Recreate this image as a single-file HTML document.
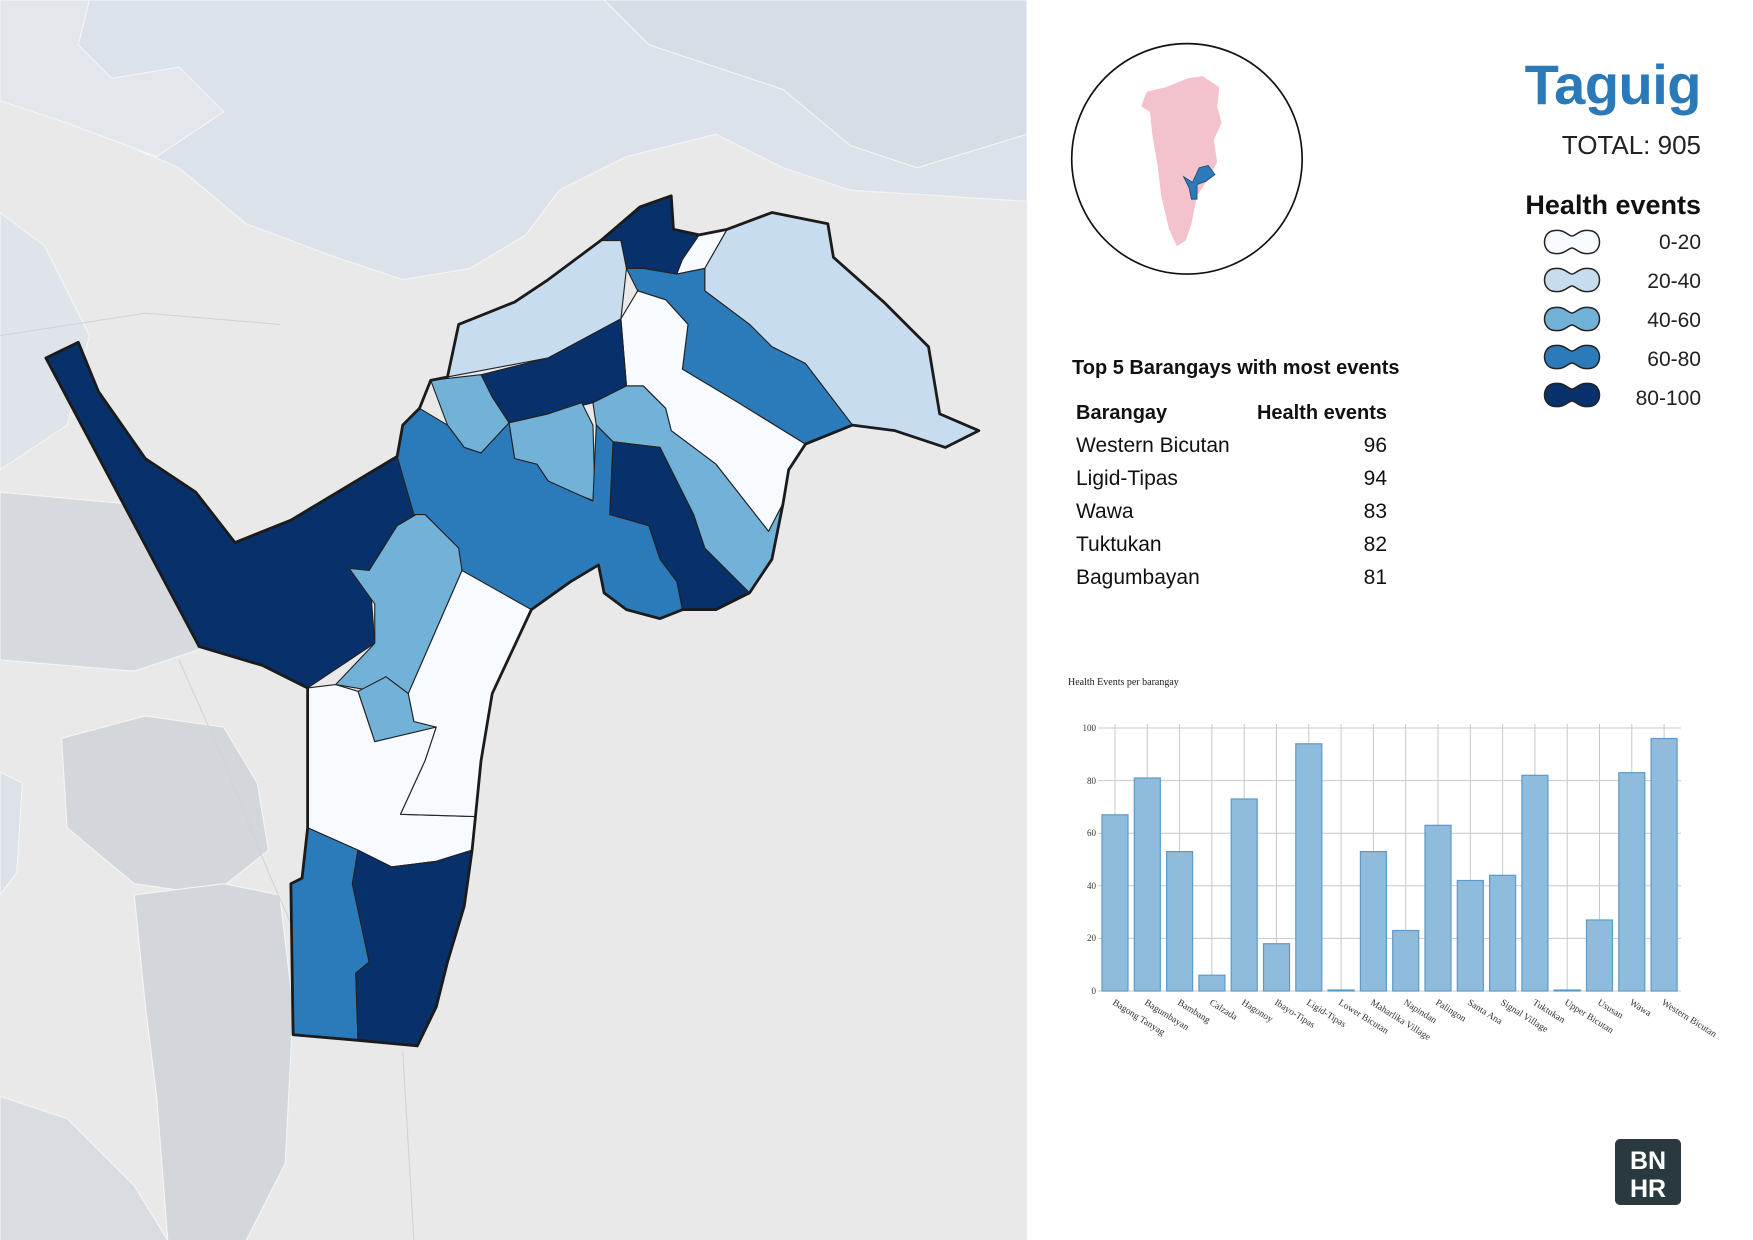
<!DOCTYPE html>
<html><head><meta charset="utf-8"><style>
body{margin:0;width:1753px;height:1240px;overflow:hidden;background:#fff;position:relative;font-family:"Liberation Sans",sans-serif}
.t{position:absolute;white-space:nowrap;color:#222}
</style></head><body>
<svg width="1753" height="1240" viewBox="0 0 1567 1108.5" preserveAspectRatio="none" style="position:absolute;left:0;top:0">
<rect x="0" y="0" width="918" height="1109" fill="#e9e9e9"/>
<g stroke="#f4f5f6" stroke-width="1">
<polygon points="0,0 918,0 918,180 760,170 700,150 640,120 560,140 500,170 470,210 420,240 360,250 300,230 220,200 160,150 90,120 40,80 0,60" fill="#dce2e9"/>
<polygon points="0,0 80,0 70,40 100,70 160,60 200,100 140,140 60,110 0,90" fill="#e3e7ec"/>
<polygon points="540,0 918,0 918,120 820,150 760,130 700,80 640,60 580,40" fill="#d7dde5"/>
<polygon points="0,190 40,220 80,300 60,380 0,420" fill="#dfe4ea"/>
<polygon points="0,440 110,450 200,500 180,580 120,600 0,590" fill="#d6d9dd"/>
<polygon points="55,660 130,640 200,650 230,700 240,760 190,800 120,790 60,740" fill="#d3d6da"/>
<polygon points="120,800 200,790 250,800 262,900 255,1040 220,1109 150,1109 140,980 130,900" fill="#d3d6da"/>
<polygon points="0,980 60,1000 120,1060 150,1109 0,1109" fill="#d9dce0"/>
<polygon points="0,690 20,700 15,780 0,800" fill="#dde2e8"/>
</g>
<g stroke="#d0d3d6" stroke-width="1" fill="none">
<path d="M160,590 L200,680 L240,780 L262,830"/>
<path d="M360,940 L370,1109"/>
<path d="M0,300 L130,280 L250,290"/>
</g>
<g stroke="#222" stroke-width="1" stroke-linejoin="round">
<polygon fill="#08306b" points="41,320 70,306 88,350 130,410 175,440 210,485 260,465 355,408 372,460 355,470 330,510 335,575 275,615 235,595 178,578"/>
<polygon fill="#08306b" points="537,215 572,185 600,175 602,205 625,210 610,232 605,245 575,240 560,240 555,215"/>
<polygon fill="#c8dcf0" points="555,215 560,240 555,285 490,320 400,337 410,290 460,270 490,250 537,215"/>
<polygon fill="#f7fbff" points="605,245 610,232 625,210 650,205 630,240"/>
<polygon fill="#c8dcf0" points="650,205 690,190 740,200 745,230 790,270 830,310 840,370 875,385 845,400 800,385 762,380 720,325 690,310 670,290 630,260 630,240"/>
<polygon fill="#2b7bba" points="560,240 575,240 605,245 630,240 630,260 670,290 690,310 720,325 762,380 720,397 660,360 610,330 615,290 595,268 570,260"/>
<polygon fill="#f7fbff" points="555,285 570,260 595,268 615,290 610,330 660,360 720,397 705,420 700,450 687,475 640,415 620,400 600,385 595,365 575,345 560,345"/>
<polygon fill="#08306b" points="430,335 490,320 555,285 560,345 530,360 490,370 455,378 440,355"/>
<polygon fill="#73b2d8" points="385,340 430,335 440,355 455,378 430,405 415,400 400,380"/>
<polygon fill="#73b2d8" points="455,378 490,370 520,360 530,380 532,448 510,440 490,430 480,415 460,410"/>
<polygon fill="#73b2d8" points="530,360 560,345 575,345 595,365 600,385 620,400 640,415 687,475 700,450 690,500 670,530 630,490 620,460 590,400 548,395 533,380"/>
<polygon fill="#08306b" points="548,395 590,400 620,460 630,490 670,530 640,545 610,545 605,520 590,500 580,470 545,460"/>
<polygon fill="#2b7bba" points="360,380 375,365 400,380 415,400 430,405 455,378 460,410 480,415 490,430 530,448 533,380 548,395 545,460 580,470 590,500 605,520 610,545 590,553 560,545 540,530 535,505 510,520 475,545 410,510 410,490 380,460 370,460 355,408"/>
<polygon fill="#73b2d8" points="330,510 355,470 372,460 380,460 410,490 413,510 365,620 345,605 330,617 300,612 335,575 335,540 312,508"/>
<polygon fill="#73b2d8" points="320,618 345,605 365,620 370,645 390,650 335,663"/>
<polygon fill="#f7fbff" points="275,615 300,612 320,618 335,663 390,650 380,680 358,728 425,730 422,760 390,770 350,775 320,760 275,740"/>
<polygon fill="#f7fbff" points="413,510 475,545 440,620 430,680 425,730 358,728 380,680 390,650 370,645 365,620"/>
<polygon fill="#2b7bba" points="275,740 320,760 315,790 330,860 318,870 320,930 262,925 260,790 270,785"/>
<polygon fill="#08306b" points="320,760 350,775 390,770 422,760 415,810 400,860 390,900 373,935 320,930 318,870 330,860 315,790"/>
</g>
<path fill="none" stroke="#1b1b1b" stroke-width="2.5" stroke-linejoin="round" d="M41,320 L70,306 L88,350 L130,410 L175,440 L210,485 L260,465 L355,408 L360,380 L375,365 L385,340 L400,337 L410,290 L460,270 L490,250 L537,215 L572,185 L600,175 L602,205 L625,210 L650,205 L690,190 L740,200 L745,230 L790,270 L830,310 L840,370 L875,385 L845,400 L800,385 L762,380 L720,397 L705,420 L700,450 L690,500 L670,530 L640,545 L610,545 L590,553 L560,545 L540,530 L535,505 L510,520 L475,545 L440,620 L430,680 L425,730 L422,760 L415,810 L400,860 L390,900 L373,935 L320,930 L262,925 L260,790 L270,785 L275,740 L275,615 L235,595 L178,578 Z"/>
<rect x="918" y="0" width="660" height="1109" fill="#fff"/>
<circle cx="1061" cy="142" r="103" fill="#fff" stroke="#111" stroke-width="1.5"/>
<polygon fill="#f4c2cc" points="1042,78 1062,70 1075,68 1090,78 1088,95 1092,110 1085,125 1088,145 1080,160 1070,175 1065,200 1060,215 1052,220 1045,205 1038,175 1035,150 1030,120 1028,100 1020,95 1025,82"/>
<polygon fill="#2b7bba" stroke="#1b4f7a" stroke-width="0.8" points="1058,158 1066,163 1072,150 1080,148 1086,156 1078,162 1070,165 1070,178 1065,178 1063,168"/>
</svg>
<div class="t" style="right:52px;top:52px;font-size:56px;font-weight:bold;color:#2a7ab9;letter-spacing:-0.5px">Taguig</div>
<div class="t" style="right:52px;top:130px;font-size:26px;color:#222">TOTAL: 905</div>
<div class="t" style="right:52px;top:190px;font-size:27px;font-weight:bold;color:#111">Health events</div>
<svg width="1753" height="1240" style="position:absolute;left:0;top:0;pointer-events:none">
<g stroke="#222" stroke-width="1.5">
<path fill="#f7fbff" d="M1552,231 C1564,228 1568,236 1572,236 C1576,236 1580,228 1592,231 C1602,234 1602,250 1592,253 C1580,256 1576,248 1572,248 C1568,248 1564,256 1552,253 C1542,250 1542,234 1552,231Z"/>
<path fill="#c8dcf0" d="M1552,269 C1564,266 1568,274 1572,274 C1576,274 1580,266 1592,269 C1602,272 1602,288 1592,291 C1580,294 1576,286 1572,286 C1568,286 1564,294 1552,291 C1542,288 1542,272 1552,269Z"/>
<path fill="#73b2d8" d="M1552,308 C1564,305 1568,313 1572,313 C1576,313 1580,305 1592,308 C1602,311 1602,327 1592,330 C1580,333 1576,325 1572,325 C1568,325 1564,333 1552,330 C1542,327 1542,311 1552,308Z"/>
<path fill="#2b7bba" d="M1552,346 C1564,343 1568,351 1572,351 C1576,351 1580,343 1592,346 C1602,349 1602,365 1592,368 C1580,371 1576,363 1572,363 C1568,363 1564,371 1552,368 C1542,365 1542,349 1552,346Z"/>
<path fill="#08306b" d="M1552,384 C1564,381 1568,389 1572,389 C1576,389 1580,381 1592,384 C1602,387 1602,403 1592,406 C1580,409 1576,401 1572,401 C1568,401 1564,409 1552,406 C1542,403 1542,387 1552,384Z"/>
</g>
<g font-family="Liberation Sans,sans-serif" font-size="21" fill="#222" text-anchor="end">
<text x="1701" y="249">0-20</text><text x="1701" y="288">20-40</text><text x="1701" y="327">40-60</text><text x="1701" y="366">60-80</text><text x="1701" y="405">80-100</text>
</g>
<g font-family="Liberation Sans,sans-serif" fill="#111">
<text x="1072" y="374" font-size="20" font-weight="bold">Top 5 Barangays with most events</text>
<text x="1076" y="419" font-size="20" font-weight="bold">Barangay</text>
<text x="1387" y="419" font-size="20" font-weight="bold" text-anchor="end">Health events</text>
<g font-size="21">
<text x="1076" y="452">Western Bicutan</text><text x="1387" y="452" text-anchor="end">96</text>
<text x="1076" y="485">Ligid-Tipas</text><text x="1387" y="485" text-anchor="end">94</text>
<text x="1076" y="518">Wawa</text><text x="1387" y="518" text-anchor="end">83</text>
<text x="1076" y="551">Tuktukan</text><text x="1387" y="551" text-anchor="end">82</text>
<text x="1076" y="584">Bagumbayan</text><text x="1387" y="584" text-anchor="end">81</text>
</g>
</g>
<text x="1068" y="685" font-family="Liberation Serif,serif" font-size="10" fill="#222">Health Events per barangay</text>
<g stroke="#c8c8c8" stroke-width="1">
<line x1="1098" x2="1681" y1="728" y2="728"/><line x1="1098" x2="1681" y1="780.6" y2="780.6"/><line x1="1098" x2="1681" y1="833.2" y2="833.2"/><line x1="1098" x2="1681" y1="885.8" y2="885.8"/><line x1="1098" x2="1681" y1="938.4" y2="938.4"/><line x1="1098" x2="1681" y1="991" y2="991"/>
<line x1="1115" x2="1115" y1="724" y2="991"/><line x1="1147.3" x2="1147.3" y1="724" y2="991"/><line x1="1179.6" x2="1179.6" y1="724" y2="991"/><line x1="1211.9" x2="1211.9" y1="724" y2="991"/><line x1="1244.2" x2="1244.2" y1="724" y2="991"/><line x1="1276.5" x2="1276.5" y1="724" y2="991"/><line x1="1308.8" x2="1308.8" y1="724" y2="991"/><line x1="1341.1" x2="1341.1" y1="724" y2="991"/><line x1="1373.4" x2="1373.4" y1="724" y2="991"/><line x1="1405.7" x2="1405.7" y1="724" y2="991"/><line x1="1438" x2="1438" y1="724" y2="991"/><line x1="1470.3" x2="1470.3" y1="724" y2="991"/><line x1="1502.6" x2="1502.6" y1="724" y2="991"/><line x1="1534.9" x2="1534.9" y1="724" y2="991"/><line x1="1567.2" x2="1567.2" y1="724" y2="991"/><line x1="1599.5" x2="1599.5" y1="724" y2="991"/><line x1="1631.8" x2="1631.8" y1="724" y2="991"/><line x1="1664.1" x2="1664.1" y1="724" y2="991"/>
</g>
<g font-family="Liberation Serif,serif" font-size="9" fill="#333" text-anchor="end">
<text x="1096" y="731">100</text><text x="1096" y="784">80</text><text x="1096" y="836">60</text><text x="1096" y="889">40</text><text x="1096" y="941">20</text><text x="1096" y="994">0</text>
</g>
<g fill="#8fbbdc" stroke="#5b9bc9" stroke-width="1.2">
<rect x="1102" y="814.8" width="26" height="176.2"/>
<rect x="1134.3" y="778" width="26" height="213"/>
<rect x="1166.6" y="851.6" width="26" height="139.4"/>
<rect x="1198.9" y="975.2" width="26" height="15.8"/>
<rect x="1231.2" y="799" width="26" height="192"/>
<rect x="1263.5" y="943.7" width="26" height="47.3"/>
<rect x="1295.8" y="743.8" width="26" height="247.2"/>
<rect x="1328.1" y="990" width="26" height="1"/>
<rect x="1360.4" y="851.6" width="26" height="139.4"/>
<rect x="1392.7" y="930.5" width="26" height="60.5"/>
<rect x="1425" y="825.3" width="26" height="165.7"/>
<rect x="1457.3" y="880.5" width="26" height="110.5"/>
<rect x="1489.6" y="875.3" width="26" height="115.7"/>
<rect x="1521.9" y="775.3" width="26" height="215.7"/>
<rect x="1554.2" y="990" width="26" height="1"/>
<rect x="1586.5" y="920" width="26" height="71"/>
<rect x="1618.8" y="772.7" width="26" height="218.3"/>
<rect x="1651.1" y="738.5" width="26" height="252.5"/>
</g>
<g font-family="Liberation Serif,serif" font-size="9.5" fill="#333">
<text transform="translate(1112,1004) rotate(32)">Bagong Tanyag</text>
<text transform="translate(1144,1004) rotate(32)">Bagumbayan</text>
<text transform="translate(1177,1004) rotate(32)">Bambang</text>
<text transform="translate(1209,1004) rotate(32)">Calzada</text>
<text transform="translate(1241,1004) rotate(32)">Hagonoy</text>
<text transform="translate(1274,1004) rotate(32)">Ibayo-Tipas</text>
<text transform="translate(1306,1004) rotate(32)">Ligid-Tipas</text>
<text transform="translate(1338,1004) rotate(32)">Lower Bicutan</text>
<text transform="translate(1370,1004) rotate(32)">Maharlika Village</text>
<text transform="translate(1403,1004) rotate(32)">Napindan</text>
<text transform="translate(1435,1004) rotate(32)">Palingon</text>
<text transform="translate(1467,1004) rotate(32)">Santa Ana</text>
<text transform="translate(1500,1004) rotate(32)">Signal Village</text>
<text transform="translate(1532,1004) rotate(32)">Tuktukan</text>
<text transform="translate(1564,1004) rotate(32)">Upper Bicutan</text>
<text transform="translate(1597,1004) rotate(32)">Ususan</text>
<text transform="translate(1629,1004) rotate(32)">Wawa</text>
<text transform="translate(1661,1004) rotate(32)">Western Bicutan</text>
</g>
<rect x="1615" y="1139" width="66" height="66" rx="5" fill="#29393e"/>
<g font-family="Liberation Sans,sans-serif" font-size="25" font-weight="bold" fill="#fff" text-anchor="middle">
<text x="1648" y="1169">BN</text><text x="1648" y="1197">HR</text>
</g>
</svg>
</body></html>
